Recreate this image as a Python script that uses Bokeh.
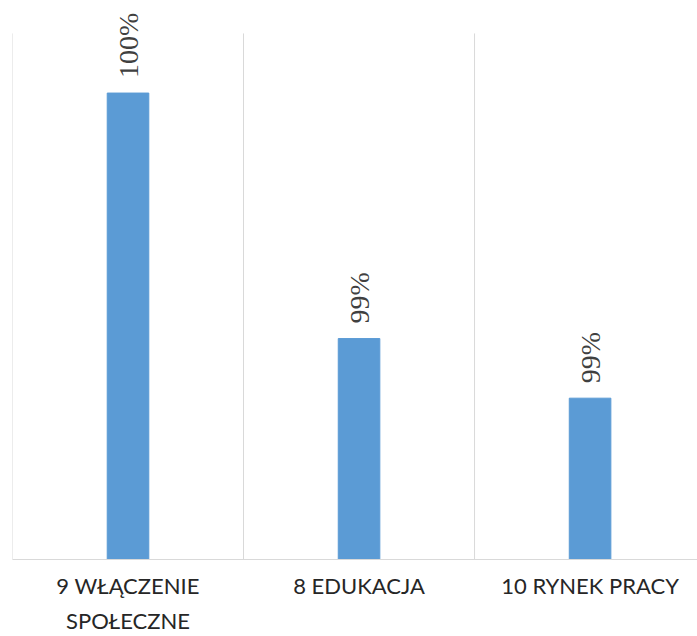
from bokeh.plotting import figure
from bokeh.models import ColumnDataSource, FixedTicker, LabelSet, Range1d
from bokeh.embed import file_html
from bokeh.resources import INLINE
import math

categories = ["9 WŁĄCZENIE\nSPOŁECZNE", "8 EDUKACJA", "10 RYNEK PRACY"]
values = [0.9983, 0.9913, 0.9896]
value_labels = ["100%", "99%", "99%"]

y_min, y_max = 0.985, 1.0
xs = [i + 0.5 for i in range(len(categories))]
bounds = list(range(len(categories) + 1))
src = ColumnDataSource(dict(x=xs, top=values, lab=value_labels))

p = figure(width=697, height=636, output_backend="svg", toolbar_location=None,
           x_range=Range1d(0, 2.965),
           y_range=Range1d(y_min, y_max + (y_max - y_min) * 33 / 527),
           min_border_left=12, min_border_right=0, min_border_top=0, min_border_bottom=76)
p.outline_line_color = None
p.background_fill_color = "white"
p.border_fill_color = "white"
p.grid.grid_line_color = None

# category separators (gridlines) up to plot-area top
p.segment(x0=bounds, y0=[y_min] * len(bounds), x1=bounds, y1=[y_max] * len(bounds),
          line_color="#D9D9D9", line_width=1)

p.vbar(x="x", top="top", bottom=y_min, width=0.18, source=src,
       fill_color="#5B9BD5", line_color="#5B9BD5")

labels = LabelSet(x="x", y="top", text="lab", source=src, angle=math.pi / 2,
                  y_offset=15, text_align="left", text_baseline="middle",
                  text_font="Liberation Sans", text_font_size="28px", text_color="#404040")
p.add_layout(labels)

p.yaxis.visible = False

p.xaxis.ticker = FixedTicker(ticks=xs)
p.xaxis.major_label_overrides = {x: c for x, c in zip(xs, categories)}
p.xaxis.major_tick_line_color = None
p.xaxis.major_tick_out = 0
p.xaxis.major_tick_in = 0
p.xaxis.minor_tick_line_color = None
p.xaxis.axis_line_color = "#D9D9D9"
p.xaxis.major_label_text_font = "Lato"
p.xaxis.major_label_text_font_size = "22px"
p.xaxis.major_label_text_line_height = 1.3
p.xaxis.major_label_text_color = "#262626"
p.xaxis.major_label_standoff = 12

open("out.html", "w").write(file_html(p, INLINE))
